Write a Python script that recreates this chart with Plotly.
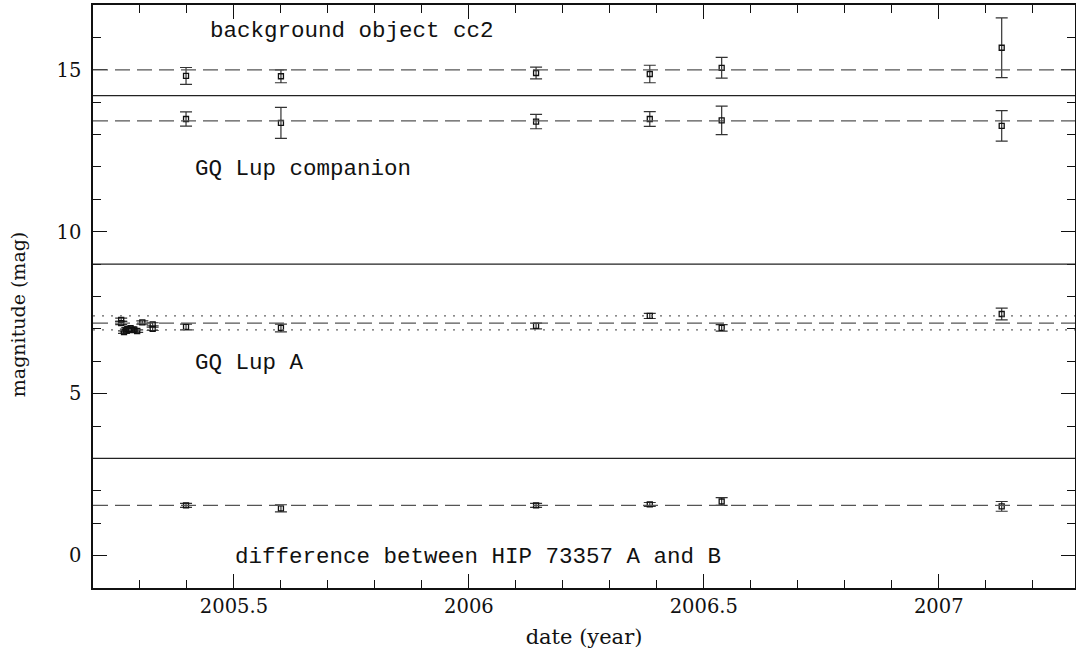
import plotly.graph_objects as go

# epochs (year)
epochs = [2005.398, 2005.600, 2006.143, 2006.385, 2006.538, 2007.134]

cc2_mag = [14.81, 14.80, 14.90, 14.87, 15.06, 15.68]
cc2_err = [0.26, 0.20, 0.18, 0.27, 0.32, 0.92]

comp_mag = [13.48, 13.36, 13.40, 13.48, 13.44, 13.27]
comp_err = [0.22, 0.48, 0.22, 0.23, 0.44, 0.47]

gqa_mag = [7.06, 7.03, 7.09, 7.40, 7.03, 7.46]
gqa_err = [0.09, 0.12, 0.09, 0.08, 0.10, 0.18]

diff_mag = [1.55, 1.46, 1.55, 1.58, 1.67, 1.52]
diff_err = [0.06, 0.11, 0.06, 0.06, 0.12, 0.15]

# early dense photometry of GQ Lup A
early_x = [2005.260, 2005.260, 2005.266, 2005.270, 2005.273, 2005.276, 2005.280,
           2005.284, 2005.288, 2005.294, 2005.305, 2005.327, 2005.327]
early_y = [7.28, 7.18, 6.90, 6.95, 7.00, 6.97, 7.02, 6.96, 6.98, 6.93, 7.20, 7.14, 7.00]
early_err = [0.05, 0.05, 0.04, 0.04, 0.04, 0.04, 0.04, 0.04, 0.04, 0.04, 0.05, 0.05, 0.05]

solid_levels = [14.2, 9.0, 3.0]
dashed_levels = [15.0, 13.42, 7.18, 1.55]
dotted_levels = [7.40, 6.97]

labels = ["background object cc2", "GQ Lup companion", "GQ Lup A",
          "difference between HIP 73357 A and B"]
label_x = [2005.445, 2005.413, 2005.413, 2005.498]
label_y = [16.2, 11.95, 5.95, -0.03]

x_range = [2005.2, 2007.29]
y_range = [-1.0, 17.0]

fig = go.Figure()

for level in solid_levels:
    fig.add_shape(type="line", xref="paper", x0=0, x1=1, yref="y", y0=level, y1=level,
                  line=dict(color="#222", width=1.3))
for level in dashed_levels:
    fig.add_shape(type="line", xref="paper", x0=0, x1=1, yref="y", y0=level, y1=level,
                  line=dict(color="#555", width=1.3, dash="15px,7px"))
for level in dotted_levels:
    fig.add_shape(type="line", xref="paper", x0=0, x1=1, yref="y", y0=level, y1=level,
                  line=dict(color="#666", width=1.3, dash="2px,7px"))

def add_series(xs, ys, es, filled=False):
    fig.add_trace(go.Scatter(
        x=xs, y=ys, mode="markers",
        marker=dict(symbol="square" if filled else "square-open", size=5,
                    color="#111", line=dict(color="#111", width=1.3)),
        error_y=dict(type="data", array=es, visible=True, color="#333",
                     thickness=1.2, width=6),
        showlegend=False, cliponaxis=False))

add_series(epochs, cc2_mag, cc2_err)
add_series(epochs, comp_mag, comp_err)
add_series(epochs, gqa_mag, gqa_err)
add_series(epochs, diff_mag, diff_err)
add_series(early_x, early_y, early_err)

for t, lx, ly in zip(labels, label_x, label_y):
    fig.add_annotation(x=lx, y=ly, text=t, showarrow=False, xanchor="left",
                       yanchor="middle",
                       font=dict(family="Liberation Mono", size=22.5, color="#111"))

# y-axis title (placed as rotated annotation to match position)
fig.add_annotation(xref="paper", yref="y", x=-0.0765, y=7.45, text="magnitude (mag)",
                   textangle=-90, showarrow=False, xanchor="center", yanchor="middle",
                   font=dict(family="DejaVu Serif", size=19, color="#111"))

axis_common = dict(showgrid=False, zeroline=False, showline=True, linecolor="#111",
                   linewidth=1.5, mirror="allticks", ticks="inside",
                   tickcolor="#111", tickwidth=1.3, ticklen=14, automargin=False,
                   tickfont=dict(family="DejaVu Serif", size=19.5, color="#111"))

fig.update_xaxes(range=x_range, tickvals=[2005.5, 2006, 2006.5, 2007],
                 ticktext=["2005.5", "2006", "2006.5", "2007"],
                 minor=dict(dtick=0.1, tick0=2005.2, ticks="inside", ticklen=8,
                            tickcolor="#111", tickwidth=1.3),
                 title=dict(text="date (year)", standoff=12,
                            font=dict(family="DejaVu Serif", size=21, color="#111")),
                 **axis_common)
fig.update_yaxes(range=y_range, tickvals=[0, 5, 10, 15],
                 minor=dict(dtick=1, tick0=0, ticks="inside", ticklen=8,
                            tickcolor="#111", tickwidth=1.3),
                 ticklabelstandoff=6,
                 **axis_common)

fig.update_layout(width=1076, height=656, plot_bgcolor="white", paper_bgcolor="white",
                  margin=dict(l=93, r=1, t=5, b=68))

fig.write_html("out.html", config={"displayModeBar": False},
               post_script="document.body.style.margin='0';document.body.style.overflow='hidden';")
